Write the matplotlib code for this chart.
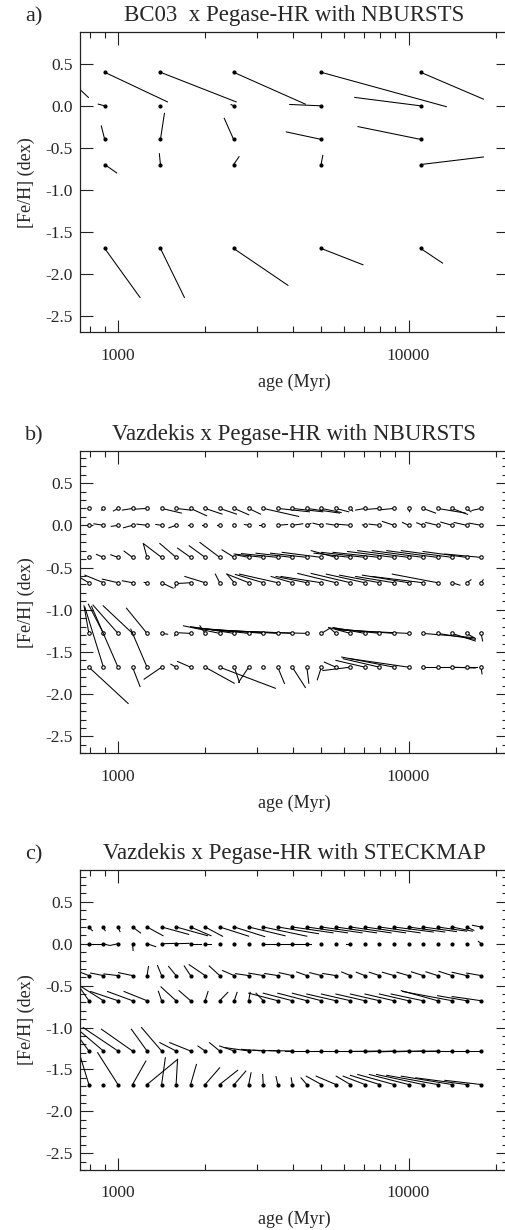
import matplotlib
matplotlib.use("Agg")
import matplotlib.pyplot as plt
from matplotlib.ticker import LogLocator, FixedLocator, MultipleLocator, NullFormatter, FuncFormatter

plt.rcParams['font.family'] = ['Liberation Serif', 'DejaVu Serif']
plt.rcParams['axes.unicode_minus'] = False

# ---------------- data ----------------
# panel a: BC03 grid (true ages in Myr, true [Fe/H])
BC03_AGES = [640, 900, 1400, 2500, 5000, 11000]
BC03_FEH = [0.4, 0.0, -0.4, -0.7, -1.7]
# recovered ages (Myr) and [Fe/H], one list per true metallicity
BC03_REC_AGE = [
    [791, 1480, 2550, 4415, 13490, 18100],
    [640, 855, 1400, 2450, 3900, 6530],
    [640, 876, 1445, 2321, 3795, 6700],
    [640, 990, 1388, 2610, 5070, 18100],
    [640, 1191, 1693, 3845, 6970, 13100],
]
BC03_REC_FEH = [
    [0.10, 0.047, 0.047, 0.02, -0.01, 0.08],
    [0.0, 0.02, 0.0, 0.015, 0.016, 0.10],
    [-0.4, -0.24, -0.09, -0.149, -0.311, -0.248],
    [-0.7, -0.80, -0.571, -0.607, -0.591, -0.61],
    [-1.7, -2.285, -2.285, -2.14, -1.895, -1.875],
]

# panels b, c: Vazdekis grid
VAZ_AGES = [794, 891, 1000, 1122, 1259, 1413, 1585, 1778, 1995, 2239, 2512, 2818, 3162,
            3548, 3981, 4467, 5012, 5623, 6310, 7079, 7943, 8913, 10000, 11220, 12589,
            14125, 15849, 17783]
VAZ_FEH = [0.2, 0.0, -0.38, -0.68, -1.28, -1.68]

# panel b: NBURSTS recovered log10(age/Myr) and [Fe/H]
NB_REC_LOGAGE = [
    [2.900, 2.944, 2.984, 3.015, 3.053, 3.218, 3.250, 3.305, 3.358, 3.408, 3.450, 3.490, 3.622, 3.659,
     3.705, 3.763, 3.768, 3.794, 3.808, 3.818, 3.852, 3.903, 4.004, 4.093, 4.195, 4.203, 4.215, 4.218],
    [2.900, 2.917, 2.977, 3.019, 3.065, 3.130, 3.175, 3.240, 3.290, 3.340, 3.400, 3.435, 3.486, 3.584,
     3.636, 3.664, 3.671, 3.717, 3.751, 3.841, 3.864, 3.910, 3.979, 4.028, 4.059, 4.111, 4.157, 4.209],
    [2.900, 2.926, 2.975, 3.021, 3.087, 3.090, 3.144, 3.205, 3.245, 3.282, 3.358, 3.405, 3.400, 3.425,
     3.475, 3.525, 3.565, 3.665, 3.675, 3.700, 3.740, 3.790, 3.825, 3.875, 3.925, 3.975, 4.050, 4.125],
    [2.850, 2.886, 2.946, 3.015, 3.090, 3.190, 3.196, 3.199, 3.230, 3.335, 3.375, 3.375, 3.404, 3.418,
     3.527, 3.544, 3.561, 3.619, 3.665, 3.717, 3.762, 3.818, 3.841, 3.875, 3.944, 4.177, 4.215, 4.257],
    [2.883, 2.898, 2.914, 2.949, 3.029, 3.171, 3.195, 3.211, 3.282, 3.225, 3.250, 3.260, 3.280, 3.300,
     3.325, 3.350, 3.728, 3.730, 3.725, 3.740, 3.745, 3.750, 3.760, 4.225, 4.230, 4.230, 4.230, 4.255],
    [3.035, 2.886, 2.909, 3.076, 3.044, 3.090, 3.182, 3.205, 3.400, 3.542, 3.418, 3.415, 3.500, 3.573,
     3.645, 3.657, 3.686, 3.710, 3.705, 3.750, 3.775, 3.770, 3.800, 4.230, 4.230, 4.230, 4.235, 4.253],
]
NB_REC_FEH = [
    [0.20, 0.18, 0.17, 0.18, 0.19, 0.145, 0.18, 0.113, 0.133, 0.133, 0.125, 0.133, 0.105, 0.16,
     0.16, 0.145, 0.152, 0.16, 0.168, 0.18, 0.188, 0.184, 0.16, 0.145, 0.145, 0.13, 0.16, 0.176],
    [0.0, 0.018, -0.013, -0.029, 0.014, 0.01, -0.03, 0.0, 0.0, 0.0, 0.0, 0.01, 0.0, 0.01,
     0.018, 0.022, 0.026, 0.018, 0.014, 0.006, 0.014, 0.046, 0.034, 0.03, 0.034, 0.038, 0.034, 0.026],
    [-0.38, -0.345, -0.349, -0.306, -0.215, -0.223, -0.215, -0.27, -0.242, -0.203, -0.29, -0.349, -0.34, -0.335,
     -0.33, -0.33, -0.32, -0.30, -0.33, -0.32, -0.32, -0.31, -0.30, -0.30, -0.30, -0.30, -0.31, -0.34],
    [-0.58, -0.59, -0.637, -0.657, -0.677, -0.745, -0.737, -0.69, -0.606, -0.578, -0.578, -0.578, -0.582, -0.578,
     -0.606, -0.606, -0.606, -0.57, -0.57, -0.578, -0.59, -0.606, -0.59, -0.606, -0.578, -0.709, -0.645, -0.645],
    [-0.953, -0.934, -0.945, -0.953, -0.981, -1.29, -1.309, -1.273, -1.19, -1.19, -1.20, -1.21, -1.22, -1.23,
     -1.24, -1.25, -1.222, -1.22, -1.21, -1.21, -1.22, -1.23, -1.24, -1.33, -1.35, -1.37, -1.34, -1.37],
    [-2.11, -0.97, -0.96, -1.91, -1.23, -1.822, -1.645, -1.613, -1.87, -1.93, -1.86, -1.86, -1.68, -1.874,
     -1.921, -1.87, -1.83, -1.62, -1.72, -1.60, -1.58, -1.56, -1.58, -1.68, -1.68, -1.69, -1.68, -1.76],
]

# panel c: STECKMAP recovered log10(age/Myr) and [Fe/H]
SK_REC_LOGAGE = [
    [2.912, 2.956, 3.007, 3.078, 3.155, 3.243, 3.308, 3.320, 3.360, 3.450, 3.505, 3.575, 3.650, 3.690,
     3.740, 3.790, 3.840, 3.890, 3.940, 3.990, 4.040, 4.085, 4.125, 4.165, 4.200, 4.220, 4.225, 4.220],
    [2.949, 2.970, 2.973, 3.052, 3.130, 3.200, 3.245, 3.285, 3.320, 3.350, 3.400, 3.450, 3.550, 3.600,
     3.650, 3.665, 3.700, 3.750, 3.785, 3.850, 3.900, 3.950, 4.000, 4.050, 4.100, 4.150, 4.200, 4.240],
    [2.870, 2.906, 2.952, 3.002, 3.105, 3.136, 3.174, 3.228, 3.245, 3.314, 3.360, 3.405, 3.450, 3.505,
     3.555, 3.615, 3.660, 3.705, 3.770, 3.820, 3.865, 3.910, 3.960, 4.010, 4.060, 4.105, 4.150, 4.200],
    [2.872, 2.868, 2.906, 2.964, 3.021, 3.139, 3.148, 3.210, 3.310, 3.378, 3.410, 3.455, 3.475, 3.450,
     3.500, 3.550, 3.600, 3.650, 3.700, 3.750, 3.800, 3.850, 3.900, 3.940, 3.975, 3.980, 4.100, 4.150],
    [2.868, 2.868, 2.880, 2.943, 3.046, 3.081, 3.144, 3.178, 3.275, 3.315, 3.350, 3.370, 3.425, 3.465,
     3.520, 3.575, 3.625, 3.675, 3.725, 3.750, 3.800, 3.850, 3.900, 3.950, 4.000, 4.050, 4.100, 4.150],
    [2.868, 2.950, 2.930, 3.096, 3.205, 3.163, 3.205, 3.270, 3.350, 3.412, 3.440, 3.458, 3.498, 3.544,
     3.596, 3.630, 3.648, 3.682, 3.751, 3.775, 3.800, 3.825, 3.865, 3.890, 3.925, 3.975, 4.025, 4.125],
]
SK_REC_FEH = [
    [0.155, 0.155, 0.144, 0.128, 0.096, 0.112, 0.096, 0.096, 0.089, 0.09, 0.085, 0.095, 0.09, 0.12,
     0.13, 0.13, 0.13, 0.13, 0.13, 0.13, 0.13, 0.14, 0.14, 0.145, 0.15, 0.15, 0.16, 0.22],
    [0.0, -0.02, -0.02, -0.08, -0.035, 0.005, 0.005, 0.0, 0.0, 0.0, 0.0, 0.0, 0.0, 0.0,
     0.0, 0.0, 0.0, 0.0, 0.0, 0.0, 0.0, 0.0, 0.0, 0.0, 0.0, 0.0, 0.0, 0.03],
    [-0.34, -0.35, -0.36, -0.345, -0.27, -0.26, -0.27, -0.265, -0.25, -0.265, -0.32, -0.357, -0.35, -0.355,
     -0.345, -0.337, -0.345, -0.355, -0.337, -0.34, -0.34, -0.34, -0.34, -0.335, -0.335, -0.33, -0.34, -0.35],
    [-0.54, -0.50, -0.57, -0.57, -0.57, -0.567, -0.515, -0.56, -0.57, -0.58, -0.58, -0.58, -0.59, -0.59,
     -0.59, -0.59, -0.59, -0.6, -0.6, -0.6, -0.6, -0.6, -0.6, -0.6, -0.56, -0.57, -0.62, -0.63],
    [-1.13, -1.04, -1.0, -1.02, -1.02, -1.0, -1.18, -1.18, -1.22, -1.18, -1.22, -1.24, -1.26, -1.27,
     -1.275, -1.28, -1.28, -1.28, -1.28, -1.28, -1.285, -1.29, -1.29, -1.29, -1.285, -1.28, -1.28, -1.28],
    [-1.32, -1.68, -1.30, -1.40, -1.38, -1.36, -1.38, -1.44, -1.48, -1.51, -1.52, -1.54, -1.56, -1.585,
     -1.60, -1.60, -1.58, -1.58, -1.58, -1.58, -1.57, -1.56, -1.56, -1.56, -1.57, -1.58, -1.60, -1.63],
]

TITLES = ["BC03  x Pegase-HR with NBURSTS",
          "Vazdekis x Pegase-HR with NBURSTS",
          "Vazdekis x Pegase-HR with STECKMAP"]
LETTERS = ["a)", "b)", "c)"]
YTICKS = [-2.5, -2.0, -1.5, -1.0, -0.5, 0.0, 0.5]
XTICK_LABELS = [1000, 10000]

# ---------------- layout ----------------
W, H = 506, 1230
fig = plt.figure(figsize=(W / 100, H / 100), dpi=100)
TXT = '#262626'

def px_axes(left, top, right, bottom):
    return fig.add_axes([left / W, 1 - bottom / H, (right - left) / W, (bottom - top) / H])

boxes = [(80, 32, 508, 332.3), (80, 451, 508, 753.3), (80, 870, 508, 1170)]

def style(ax, idx, yminor):
    ax.set_xscale('log')
    ax.set_xlim(740, 22000)
    ax.set_ylim(-2.70, 0.88)
    ax.xaxis.set_major_locator(FixedLocator(XTICK_LABELS))
    ax.xaxis.set_minor_locator(LogLocator(base=10, subs=(2, 3, 4, 5, 6, 7, 8, 9), numticks=20))
    ax.xaxis.set_major_formatter(FuncFormatter(lambda v, p: f"{int(round(v))}"))
    ax.xaxis.set_minor_formatter(NullFormatter())
    ax.yaxis.set_major_locator(FixedLocator(YTICKS))
    ax.yaxis.set_major_formatter(FuncFormatter(lambda v, p: f"{v:.1f}"))
    if yminor:
        ax.yaxis.set_minor_locator(MultipleLocator(0.1))
    ax.tick_params(which='both', direction='in', top=True, right=True, width=0.8, color='#222222')
    ax.tick_params(which='major', length=9)
    ax.tick_params(which='minor', length=4.3)
    ax.tick_params(axis='x', which='major', pad=11, labelsize=12.5, labelcolor=TXT)
    ax.tick_params(axis='y', which='major', pad=5, labelsize=12.5, labelcolor=TXT)
    for s in ax.spines.values():
        s.set_linewidth(0.9)
        s.set_color('#222222')
    ax.set_xlabel("age (Myr)", fontsize=13, color=TXT, labelpad=7)
    ax.set_ylabel("[Fe/H] (dex)", fontsize=13, color=TXT, labelpad=8)
    bh = boxes[idx][3] - boxes[idx][1]
    ax.text(0.5, 1 + 11 / bh, TITLES[idx], transform=ax.transAxes, ha='center', va='baseline',
            fontsize=16.5, color=TXT)
    ax.text((25 - 80) / 428, 1 + 11 / bh, LETTERS[idx], transform=ax.transAxes, ha='left',
            va='baseline', fontsize=16, color=TXT)

# panel a
ax = px_axes(*boxes[0])
for i, feh in enumerate(BC03_FEH):
    for j, age in enumerate(BC03_AGES):
        ax.plot([age, BC03_REC_AGE[i][j]], [feh, BC03_REC_FEH[i][j]], color='k', lw=0.75)
    ax.plot(BC03_AGES, [feh] * len(BC03_AGES), 'o', color='k', ms=3.0, mew=0)
style(ax, 0, False)

# panels b and c
for idx, (rec_l, rec_f, hollow) in enumerate([(NB_REC_LOGAGE, NB_REC_FEH, True),
                                              (SK_REC_LOGAGE, SK_REC_FEH, False)], start=1):
    ax = px_axes(*boxes[idx])
    for i, feh in enumerate(VAZ_FEH):
        for j, age in enumerate(VAZ_AGES):
            ax.plot([age, 10 ** rec_l[i][j]], [feh, rec_f[i][j]], color='k', lw=0.75)
        if hollow:
            ax.plot(VAZ_AGES, [feh] * len(VAZ_AGES), 'o', mfc='white', mec='k', ms=2.5, mew=0.8)
        else:
            ax.plot(VAZ_AGES, [feh] * len(VAZ_AGES), 'o', color='k', ms=3.0, mew=0)
    style(ax, idx, True)

fig.savefig("out.png", dpi=100)
